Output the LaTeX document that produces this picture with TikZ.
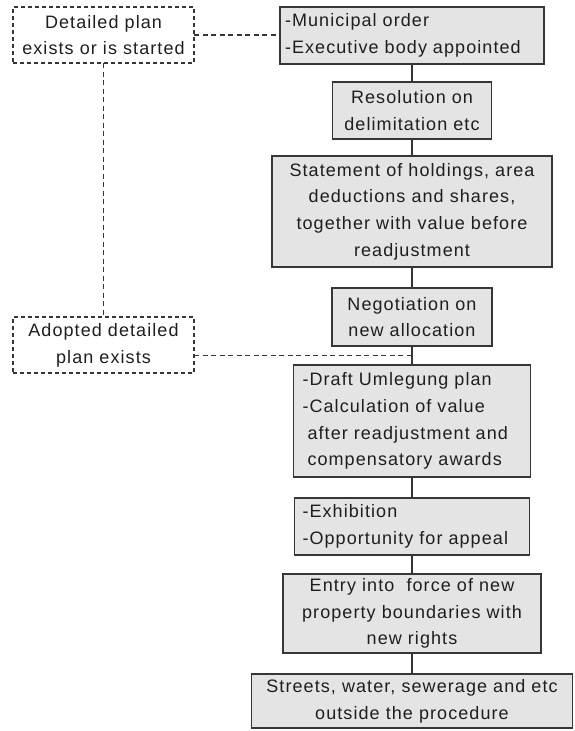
\documentclass[tikz,border=0pt]{standalone}
\usepackage{fontspec}
\usetikzlibrary{positioning,calc}
\newfontfamily\chartfont[LetterSpace=6]{Liberation Sans}
\definecolor{boxfill}{HTML}{E4E4E4}
\definecolor{boxline}{HTML}{363636}
\definecolor{inktext}{HTML}{1E1E1E}
\tikzstyle{block} = [rectangle, draw=boxline, fill=boxfill, line width=1.3pt, outer sep=0pt,
    inner xsep=5pt, inner ysep=2pt, text=inktext, align=center,
    font=\chartfont\fontsize{18}{26.7}\selectfont]
\tikzstyle{listblock} = [block, align=left]
\tikzstyle{note} = [rectangle, draw=boxline, line width=1.6pt, outer sep=0pt, dash pattern=on 4pt off 3pt,
    minimum width=181pt, minimum height=56pt, align=center, text=inktext,
    font=\chartfont\fontsize{18}{26.7}\selectfont]
\tikzstyle{line} = [draw=boxline, line width=1.3pt]
\tikzstyle{dashline} = [draw=boxline, line width=1.6pt, dash pattern=on 5pt off 3.5pt]

\begin{document}
\begin{tikzpicture}[node distance = 19pt]
    \useasboundingbox (0,0) rectangle (574pt,-731pt);
    % Place nodes
    \node [listblock, text width=254pt, minimum height=57pt] (order) at (412pt,-35.5pt) {-Municipal order\\-Executive body appointed};
    \node [block, minimum width=159pt, minimum height=57pt, below=18pt of order] (resolution) {Resolution on\\delimitation etc};
    \node [block, minimum width=280pt, minimum height=111pt, below=17pt of resolution] (holdings) {Statement of holdings, area\\deductions and shares,\\together with value before\\readjustment};
    \node [block, minimum width=160pt, minimum height=58pt, below=21pt of holdings] (negotiation) {Negotiation on\\new allocation};
    \node [listblock, inner xsep=9pt, text width=219pt, minimum height=112pt, below=19pt of negotiation] (draft) {-Draft Umlegung plan\\-Calculation of value\\\hspace*{5pt}after readjustment and\\\hspace*{5pt}compensatory awards};
    \node [listblock, inner xsep=8pt, text width=219pt, minimum height=57pt, below=21pt of draft] (exhibition) {-Exhibition\\-Opportunity for appeal};
    \node [block, minimum width=258pt, minimum height=79pt, below=19pt of exhibition] (entry) {Entry into\ \ force of new\\property boundaries with\\new rights};
    \node [block, minimum width=321pt, minimum height=54pt, below=21pt of entry] (streets) {Streets, water, sewerage and etc\\outside the procedure};

    \node [note] (planstarted) at (103.5pt,-35pt) {Detailed plan\\exists or is started};
    \node [note, below=254pt of planstarted] (planadopted) {Adopted detailed\\plan exists};
    \coordinate (joint) at ($(negotiation.south)!0.5!(draft.north)$);
    % Draw edges
    \path [line] (order) -- (resolution);
    \path [line] (resolution) -- (holdings);
    \path [line] (holdings) -- (negotiation);
    \path [line] (negotiation) -- (draft);
    \path [line] (draft) -- (exhibition);
    \path [line] (exhibition) -- (entry);
    \path [line] (entry) -- (streets);
    \path [dashline] (planstarted.east) -- (planstarted.east -| order.west);
    \path [dashline] (planstarted) -- (planadopted);
    \path [dashline] (planadopted.east |- joint) -- (joint);
\end{tikzpicture}
\end{document}
